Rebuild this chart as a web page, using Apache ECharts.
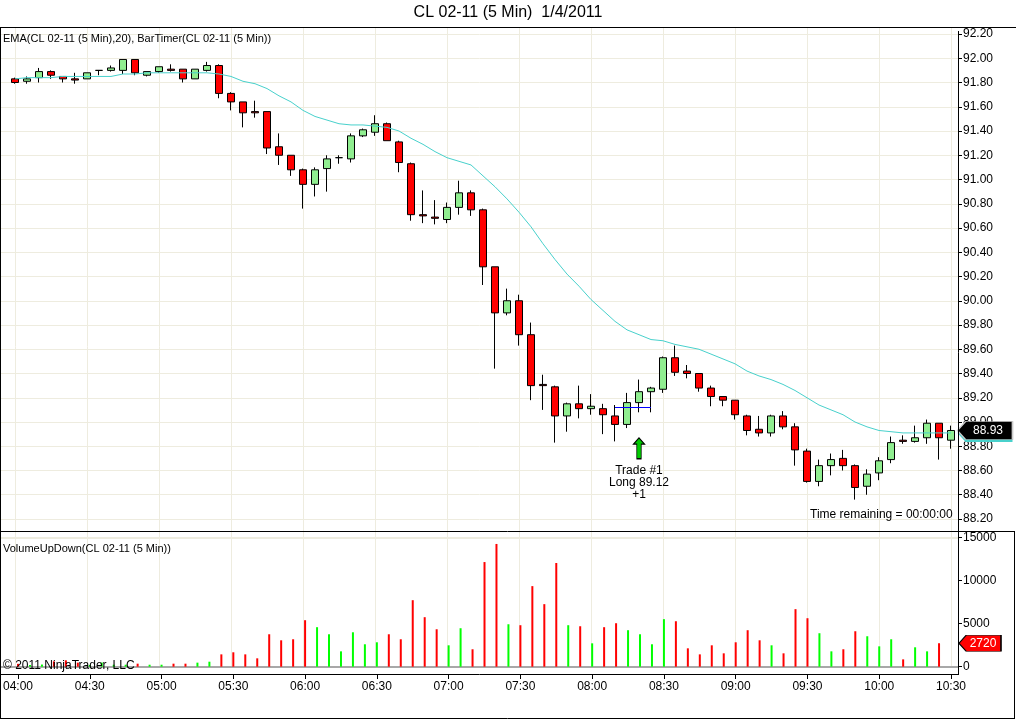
<!DOCTYPE html>
<html><head><meta charset="utf-8">
<script src="https://cdn.jsdelivr.net/npm/echarts@6/dist/echarts.min.js"></script>
<style>html,body{margin:0;padding:0;background:#fff}#c{width:1016px;height:720px}</style>
</head><body><div id="c"></div>
<script>
const categories = ['04:00','04:05','04:10','04:15','04:20','04:25','04:30','04:35','04:40','04:45','04:50','04:55',
 '05:00','05:05','05:10','05:15','05:20','05:25','05:30','05:35','05:40','05:45','05:50','05:55',
 '06:00','06:05','06:10','06:15','06:20','06:25','06:30','06:35','06:40','06:45','06:50','06:55',
 '07:00','07:05','07:10','07:15','07:20','07:25','07:30','07:35','07:40','07:45','07:50','07:55',
 '08:00','08:05','08:10','08:15','08:20','08:25','08:30','08:35','08:40','08:45','08:50','08:55',
 '09:00','09:05','09:10','09:15','09:20','09:25','09:30','09:35','09:40','09:45','09:50','09:55',
 '10:00','10:05','10:10','10:15','10:20','10:25','10:30'];

const opens  = [91.83,91.81,91.84,91.89,91.85,91.83,91.83,91.90,91.90,91.90,91.99,91.86,91.89,91.91,91.91,91.83,91.90,91.94,91.71,91.64,
 91.56,91.56,91.27,91.20,91.08,90.96,91.09,91.18,91.17,91.36,91.39,91.46,91.31,91.13,90.71,90.69,90.67,90.77,90.89,90.75,
 90.28,89.90,90.00,89.72,89.31,89.29,89.05,89.15,89.11,89.11,89.05,88.98,89.16,89.25,89.27,89.53,89.42,89.40,89.28,89.21,
 89.18,89.05,88.94,88.91,89.05,88.96,88.76,88.51,88.64,88.70,88.64,88.47,88.58,88.69,88.85,88.84,88.87,88.99,88.85];
const highs  = [91.84,91.85,91.92,91.90,91.85,91.88,91.88,91.90,91.94,91.99,91.99,91.89,91.93,91.95,91.91,91.91,91.97,91.95,91.72,91.64,
 91.65,91.56,91.38,91.20,91.09,91.10,91.20,91.20,91.38,91.42,91.53,91.47,91.32,91.14,90.91,90.83,90.81,90.99,90.91,90.76,
 90.28,90.10,90.05,89.82,89.39,89.30,89.16,89.30,89.23,89.15,89.14,89.24,89.35,89.29,89.54,89.63,89.47,89.40,89.30,89.21,
 89.18,89.06,89.05,89.06,89.09,88.99,88.78,88.69,88.74,88.77,88.65,88.61,88.71,88.88,88.89,88.97,89.02,88.99,88.97];
const lows   = [91.79,91.79,91.80,91.83,91.80,91.79,91.83,91.86,91.89,91.87,91.86,91.85,91.88,91.89,91.80,91.83,91.89,91.67,91.57,91.43,
 91.51,91.21,91.12,91.03,90.76,90.86,90.90,91.13,91.14,91.35,91.36,91.32,91.06,90.66,90.64,90.63,90.64,90.71,90.70,90.13,
 89.44,89.88,89.63,89.18,89.10,88.83,88.92,89.03,89.06,88.90,88.84,88.95,89.08,89.08,89.24,89.38,89.36,89.25,89.13,89.13,
 89.02,88.89,88.88,88.88,88.94,88.64,88.50,88.47,88.56,88.60,88.36,88.40,88.52,88.66,88.82,88.83,88.82,88.69,88.78];
const closes = [91.80,91.83,91.89,91.86,91.83,91.82,91.88,91.90,91.92,91.99,91.88,91.89,91.93,91.90,91.83,91.91,91.94,91.71,91.64,91.55,
 91.55,91.26,91.20,91.08,90.96,91.08,91.17,91.18,91.36,91.41,91.46,91.32,91.14,90.71,90.70,90.68,90.77,90.89,90.75,90.28,
 89.90,90.00,89.72,89.30,89.30,89.05,89.15,89.11,89.13,89.06,88.98,89.16,89.25,89.28,89.53,89.41,89.40,89.28,89.21,89.18,
 89.06,88.93,88.91,89.05,88.96,88.77,88.51,88.64,88.69,88.64,88.46,88.57,88.68,88.83,88.84,88.87,88.99,88.87,88.93];
const ema20  = [91.83,91.84,91.84,91.84,91.85,91.85,91.85,91.85,91.85,91.87,91.87,91.88,91.88,91.88,91.88,91.88,91.88,91.87,91.85,91.81,
 91.79,91.75,91.69,91.64,91.57,91.52,91.49,91.46,91.45,91.45,91.44,91.43,91.40,91.34,91.29,91.23,91.18,91.15,91.12,91.03,
 90.94,90.84,90.73,90.61,90.47,90.34,90.22,90.12,90.01,89.92,89.83,89.76,89.72,89.68,89.67,89.64,89.62,89.60,89.56,89.52,
 89.48,89.42,89.38,89.35,89.31,89.26,89.20,89.14,89.10,89.06,89.00,88.96,88.93,88.92,88.91,88.91,88.91,88.91,88.91];
const volumes = [330,200,250,620,740,470,200,480,230,230,350,230,230,350,350,470,580,1430,1670,1430,
 970,3760,3060,3180,5390,4580,3760,1780,3990,2600,2830,3760,3180,7710,5740,4340,2480,4460,2020,12130,
 14230,4920,4810,9340,7250,12020,4810,4690,2710,4580,5040,4230,3760,2600,5510,5270,2130,1430,2480,1550,
 2830,4230,3060,2480,1550,6670,5620,3880,1780,2020,4110,3530,2360,3180,850,2250,1780,2720,null];

const priceRange = {min: 88.2, max: 92.2, step: 0.2};
const volumeRange = {min: 0, max: 15000, step: 5000};
const trade = {bar: '08:20', price: 89.12, lineFrom: '08:10', lineTo: '08:25', text: 'Trade #1\nLong 89.12\n+1'};

const FONT = 'Liberation Sans';
const GRIDC = '#eeecdf';
const n = categories.length;
const lastCat = categories[n - 1];
const lastPrice = closes[n - 1];
const lastEma = ema20[n - 1];
let lastVolIdx = n - 1; while (volumes[lastVolIdx] == null) lastVolIdx--;
const lastVol = volumes[lastVolIdx];
const tradeIdx = categories.indexOf(trade.bar);

const candleData = opens.map((o, i) => [o, closes[i], lows[i], highs[i]]);
const volData = volumes.map((v, i) => v == null ? null : {
  value: v, itemStyle: {color: closes[i] >= opens[i] ? '#00ff00' : '#ff0000'}
});

const chart = echarts.init(document.getElementById('c'), null, {renderer: 'canvas'});
const txt = (s) => Object.assign({fontFamily: FONT, color: '#000', fontWeight: 'normal'}, s);
const ptag = 'path://M0,9 L8,0 L54,0 L54,18 L8,18 Z';

chart.setOption({
  animation: false,
  backgroundColor: '#fff',
  textStyle: {fontFamily: FONT},
  title: [
    {text: 'CL 02-11 (5 Min)  1/4/2011', left: 'center', top: 5, padding: 0, textStyle: txt({fontSize: 16})},
    {text: 'EMA(CL 02-11 (5 Min),20), BarTimer(CL 02-11 (5 Min))', left: 3, top: 33, padding: 0, textStyle: txt({fontSize: 11})},
    {text: 'VolumeUpDown(CL 02-11 (5 Min))', left: 3, top: 543, padding: 0, textStyle: txt({fontSize: 11})},
    {text: '\u00a9 2011 NinjaTrader, LLC', left: 3, top: 660, padding: 0, textStyle: txt({fontSize: 12})},
    {text: 'Time remaining = 00:00:00', left: 810, top: 509, padding: 0, textStyle: txt({fontSize: 12})}
  ],
  grid: [
    {left: 15, right: 65, top: 27, bottom: 54},
    {left: 1, right: 58, top: 34, bottom: 201},
    {left: 15, right: 65, top: 34, bottom: 201},
    {left: 1, right: 58, top: 537.3, bottom: 53.3},
    {left: 15, right: 65, top: 537.3, bottom: 53.3}
  ],
  xAxis: [
    {gridIndex: 0, type: 'category', data: categories, boundaryGap: false, axisLine: {show: false}, axisTick: {show: false}, axisLabel: {show: false},
     splitLine: {show: true, interval: 5, lineStyle: {color: GRIDC, width: 1}}},
    {gridIndex: 1, type: 'category', data: categories, show: false},
    {gridIndex: 2, type: 'category', data: categories, boundaryGap: false, show: false},
    {gridIndex: 3, type: 'category', data: categories, show: false},
    {gridIndex: 4, type: 'category', data: categories, boundaryGap: false, offset: 7.3,
     axisLine: {show: false, onZero: false}, axisTick: {show: true, interval: 5, length: 5, lineStyle: {color: '#000'}},
     axisLabel: {interval: 5, fontSize: 12, color: '#000', margin: 7, fontFamily: FONT}, splitLine: {show: false}}
  ],
  yAxis: [
    {gridIndex: 0, type: 'value', show: false, min: 0, max: 1},
    {gridIndex: 1, type: 'value', position: 'right', min: priceRange.min, max: priceRange.max, interval: priceRange.step,
     axisLine: {show: false, onZero: false}, axisTick: {show: true, length: 4, lineStyle: {color: '#000'}},
     axisLabel: {fontSize: 12, color: '#000', margin: 5, fontFamily: FONT, formatter: v => v.toFixed(2)},
     splitLine: {show: true, lineStyle: {color: GRIDC, width: 1}}},
    {gridIndex: 2, type: 'value', show: false, min: priceRange.min, max: priceRange.max},
    {gridIndex: 3, type: 'value', position: 'right', min: volumeRange.min, max: volumeRange.max, interval: volumeRange.step,
     axisLine: {show: false, onZero: false}, axisTick: {show: true, length: 4, lineStyle: {color: '#000'}},
     axisLabel: {fontSize: 12, color: '#000', margin: 5, fontFamily: FONT, formatter: v => String(v)},
     splitLine: {show: true, lineStyle: {color: ['#a8a8a8', 'rgba(0,0,0,0)', 'rgba(0,0,0,0)', GRIDC], width: 2}}},
    {gridIndex: 4, type: 'value', show: false, min: volumeRange.min, max: volumeRange.max}
  ],
  series: [
    {
      type: 'candlestick', name: 'CL 02-11', xAxisIndex: 2, yAxisIndex: 2, data: candleData, barWidth: 8, clip: false, z: 2,
      itemStyle: {color: '#90ee90', color0: '#ff0000', borderColor: '#000', borderColor0: '#000', borderWidth: 1},
      markLine: {
        silent: true, symbol: 'none', animation: false, z: 4,
        label: {show: false},
        lineStyle: {color: '#0000ff', width: 1, type: 'solid'},
        data: [[{coord: [trade.lineFrom, trade.price]}, {coord: [trade.lineTo, trade.price]}]]
      },
      markPoint: {
        silent: true, animation: false, z: 7,
        data: [
          {coord: [trade.bar, lows[tradeIdx]], symbol: 'path://M5,0 L10,6 L7,6 L7,20 L3,20 L3,6 L0,6 Z',
           symbolSize: [11, 21], symbolOffset: [0, 36], itemStyle: {color: '#00cc00', borderColor: '#000', borderWidth: 1},
           label: {show: true, position: 'bottom', distance: 5, formatter: trade.text, fontSize: 12, lineHeight: 12,
                   color: '#000', align: 'center', fontFamily: FONT}},
          {coord: [lastCat, lastPrice], symbol: ptag, symbolSize: [55, 18], symbolOffset: [34, 0],
           itemStyle: {color: '#000', borderColor: '#ccc', borderWidth: 1},
           label: {show: true, position: 'inside', offset: [3, 0], formatter: lastPrice.toFixed(2), color: '#fff', fontSize: 12, fontFamily: FONT}}
        ]
      }
    },
    {
      type: 'line', name: 'EMA', xAxisIndex: 2, yAxisIndex: 2, data: ema20, symbol: 'none', z: 3,
      lineStyle: {color: '#48d1cc', width: 1}, itemStyle: {color: '#48d1cc'},
      markPoint: {
        silent: true, animation: false, z: 6,
        data: [{coord: [lastCat, lastEma], symbol: ptag, symbolSize: [55, 18], symbolOffset: [34, 0],
                itemStyle: {color: '#48d1cc'}, label: {show: false}}]
      }
    },
    {
      type: 'bar', name: 'Volume', xAxisIndex: 4, yAxisIndex: 4, data: volData, barWidth: 2, clip: false,
      markPoint: {
        silent: true, animation: false, z: 6,
        data: [{coord: [lastCat, lastVol], symbol: 'path://M0,8 L7,0 L41,0 L41,16 L7,16 Z', symbolSize: [42, 16], symbolOffset: [29, 0],
                itemStyle: {color: '#ff0000', borderColor: '#000', borderWidth: 1},
                label: {show: true, position: 'inside', offset: [3, 0], formatter: String(lastVol), color: '#fff', fontSize: 12, fontFamily: FONT}}]
      }
    }
  ],
  graphic: [
    {type: 'line', z: 100, silent: true, shape: {x1: 0, y1: 27.5, x2: 1016, y2: 27.5}, style: {stroke: '#000', lineWidth: 1}},
    {type: 'line', z: 100, silent: true, shape: {x1: 0, y1: 531.5, x2: 1015, y2: 531.5}, style: {stroke: '#000', lineWidth: 1}},
    {type: 'line', z: 100, silent: true, shape: {x1: 0.5, y1: 27, x2: 0.5, y2: 719}, style: {stroke: '#000', lineWidth: 1}},
    {type: 'line', z: 100, silent: true, shape: {x1: 0, y1: 718.5, x2: 1015, y2: 718.5}, style: {stroke: '#000', lineWidth: 1}},
    {type: 'line', z: 100, silent: true, shape: {x1: 1014.5, y1: 531, x2: 1014.5, y2: 719}, style: {stroke: '#000', lineWidth: 1}},
    {type: 'line', z: 100, silent: true, shape: {x1: 958.5, y1: 31, x2: 958.5, y2: 674.5}, style: {stroke: '#000', lineWidth: 1}},
    {type: 'line', z: 100, silent: true, shape: {x1: 0, y1: 674.5, x2: 959, y2: 674.5}, style: {stroke: '#000', lineWidth: 1}}
  ]
});
</script>
</body></html>
